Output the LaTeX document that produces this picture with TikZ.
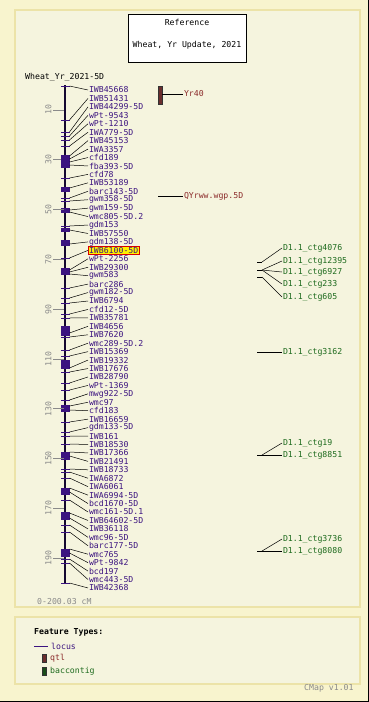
\documentclass[tikz,border=0pt]{standalone}
\usepackage{fontspec}
\newfontfamily\pix{DejaVu Sans Mono}
\newcommand\pf{\pix\fontsize{8.2}{9}\selectfont}
\definecolor{outerbg}{HTML}{F8F4CE}
\definecolor{panelbg}{HTML}{F5F4DE}
\definecolor{panelbd}{HTML}{ECE3A8}
\definecolor{locusc}{HTML}{3C1480}
\definecolor{chromc}{HTML}{150830}
\definecolor{qtlc}{HTML}{8B2A2A}
\definecolor{qtlbar}{HTML}{6B2E2E}
\definecolor{bacc}{HTML}{1E6B1E}
\definecolor{bacbar}{HTML}{1A4D1A}
\definecolor{scaleg}{HTML}{8A8A8A}
\begin{document}
\begin{tikzpicture}[x=1pt,y=-1pt,
  ll/.style={anchor=west, inner sep=1pt, outer sep=0pt, text=locusc, font=\pf},
  hl/.style={ll, draw=red!85!black, fill=yellow, line width=0.6pt, inner xsep=1pt, inner ysep=0.9pt},
  conn/.style={black, line width=0.5pt},
  ltick/.style={locusc, line width=1pt},
  qlab/.style={anchor=west, inner sep=1pt, outer sep=0pt, text=qtlc, font=\pf},
  blab/.style={anchor=west, inner sep=1pt, outer sep=0pt, text=bacc, font=\pf},
  plain/.style={anchor=west, inner sep=0pt, font=\pf},
  panel/.style={fill=panelbg, draw=panelbd, line width=1.2pt}]
\useasboundingbox (0,0) rectangle (369,702);
\fill[outerbg] (0,0) rectangle (369,702);
\draw[black, line width=1pt] (0,701.5) -- (368.5,701.5) -- (368.5,0);
% panels
\draw[panel] (15,10) rectangle (360,607);
\draw[panel] (15,617) rectangle (360,684);
% reference box
\node[draw=black, fill=white, line width=0.8pt, minimum width=118pt, minimum height=48pt, inner sep=0pt] (refbox) at (187,38) {};
\node[font=\pf, inner sep=0pt] (reft) at (187,22) {Reference};
\node[font=\pf, inner sep=0pt] (refs) at (187,45) {Wheat, Yr Update, 2021};
% map title
\node[plain] (maptitle) at (25,77) {Wheat\_Yr\_2021-5D};
% chromosome
\coordinate (ctop) at (65,85);
\coordinate (cbot) at (65,583);
\draw[chromc, line width=2pt] (ctop) -- (cbot);
% dense blocks
\foreach \a/\b in {155/168,187/192,208/213,228/232,240/246,268/275,326/336,360/368,405/412,452/460,488/495,512/520,550/557}
  \fill[locusc] (61,\a) rectangle (69.5,\b);
% scale
\foreach \v in {10,30,...,190} {
  \pgfmathsetmacro\sy{85+\v*2.49}
  \draw[scaleg, line width=0.6pt] (53,\sy) -- (64,\sy);
  \node[rotate=90, text=scaleg, font=\pf, inner sep=0pt] (s\v) at (48.5,\sy) {\v};
}
\node[plain, text=scaleg] (range) at (37,602) {0-200.03 cM};
% loci
\foreach \ly/\txt/\sty [count=\i] in {
 86/IWB45668/ll, 120/IWB51431/ll, 132/IWB44299-5D/ll, 136/wPt-9543/ll, 140/wPt-1210/ll,
 146/IWA779-5D/ll, 156/IWB45153/ll, 159/IWA3357/ll, 162/cfd189/ll, 165/fba393-5D/ll,
 178/cfd78/ll, 188/IWB53189/ll, 198/barc143-5D/ll, 201/gwm358-5D/ll, 210/gwm159-5D/ll,
 212/wmc805-5D.2/ll, 226/gdm153/ll, 230/IWB57550/ll, 244/gdm138-5D/ll, 258/IWB6100-5D/hl,
 270/wPt-2256/ll, 272/IWB29300/ll, 274/gwm583/ll, 288/barc286/ll, 298/gwm182-5D/ll,
 303/IWB6794/ll, 314/cfd12-5D/ll, 318/IWB35781/ll, 333/IWB4656/ll, 337/IWB7620/ll,
 350/wmc289-5D.2/ll, 356/IWB15369/ll, 368/IWB19332/ll, 372/IWB17676/ll, 383/IWB28790/ll,
 390/wPt-1369/ll, 400/mwg922-5D/ll, 406/wmc97/ll, 410/cfd183/ll, 422/IWB16659/ll,
 432/gdm133-5D/ll, 436/IWB161/ll, 444/IWB18530/ll, 452/IWB17366/ll, 456/IWB21491/ll,
 469/IWB18733/ll, 472/IWA6872/ll, 478/IWA6061/ll, 488/IWA6994-5D/ll, 492/bcd1670-5D/ll,
 500/wmc161-5D.1/ll, 513/IWB64602-5D/ll, 518/IWB36118/ll, 525/wmc96-5D/ll, 532/barc177-5D/ll,
 549/wmc765/ll, 553/wPt-9842/ll, 559/bcd197/ll, 563/wmc443-5D/ll, 583/IWB42368/ll} {
  \pgfmathsetmacro\lab{90+(\i-1)*8.44}
  \draw[ltick] (61,\ly) -- (69.5,\ly);
  \coordinate (c\i) at (69.5,\ly);
  \node[\sty] (l\i) at (88,\lab) {\txt};
  \draw[conn] (c\i) -- (l\i.west);
}
% QTLs
\draw[fill=qtlbar, draw=black!80, line width=0.5pt] (158,86) rectangle (162,104);
\coordinate (q1) at (162,94);
\node[qlab] (yr40) at (183,94) {Yr40};
\draw[conn] (q1) -- (yr40.west);
\coordinate (q2) at (158,196);
\node[qlab] (qyr) at (183,196) {QYrww.wgp.5D};
\draw[conn] (q2) -- (qyr.west);
% bac contigs
\foreach \n/\y in {a/262,b/270,c/277,d/352,e/455,f/551}{
  \coordinate (b\n) at (262,\y);
  \draw[conn] (257,\y) -- (b\n);
}
\node[blab] (k1) at (282,248) {D1.1\_ctg4076};
\node[blab] (k2) at (282,261) {D1.1\_ctg12395};
\node[blab] (k3) at (282,272) {D1.1\_ctg6927};
\node[blab] (k4) at (282,284) {D1.1\_ctg233};
\node[blab] (k5) at (282,297) {D1.1\_ctg605};
\node[blab] (k6) at (282,352) {D1.1\_ctg3162};
\node[blab] (k7) at (282,443) {D1.1\_ctg19};
\node[blab] (k8) at (282,455) {D1.1\_ctg8851};
\node[blab] (k9) at (282,539) {D1.1\_ctg3736};
\node[blab] (k10) at (282,551) {D1.1\_ctg8080};
\draw[conn] (ba) -- (k1.west);
\draw[conn] (bb) -- (k2.west);
\draw[conn] (bb) -- (k3.west);
\draw[conn] (bb) -- (k4.west);
\draw[conn] (bc) -- (k5.west);
\draw[conn] (bd) -- (k6.west);
\draw[conn] (be) -- (k7.west);
\draw[conn] (be) -- (k8.west);
\draw[conn] (bf) -- (k9.west);
\draw[conn] (bf) -- (k10.west);
% legend
\node[plain, font=\pf\bfseries] (ft) at (34,632) {Feature Types:};
\draw[locusc, line width=0.8pt] (34,646) -- (48,646);
\node[plain, text=locusc] (lg1) at (51,646) {locus};
\draw[fill=qtlbar, draw=black!80, line width=0.5pt] (42,654) rectangle (46,662);
\node[plain, text=qtlc] (lg2) at (50,658) {qtl};
\draw[fill=bacbar, draw=black!80, line width=0.5pt] (42,667) rectangle (46,675);
\node[plain, text=bacc] (lg3) at (50,671) {baccontig};
\node[plain, text=scaleg] (ver) at (304,688) {CMap v1.01};
\end{tikzpicture}
\end{document}
